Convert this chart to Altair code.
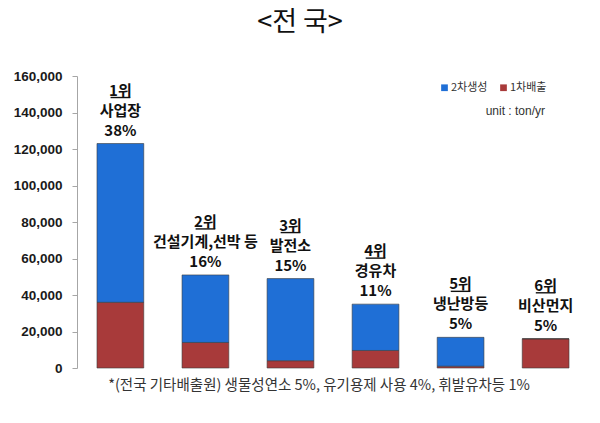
import altair as alt
import pandas as pd

categories = ["사업장", "건설기계,선박 등", "발전소", "경유차", "냉난방등", "비산먼지"]
ranks = ["1위", "2위", "3위", "4위", "5위", "6위"]
shares = ["38%", "16%", "15%", "11%", "5%", "5%"]
primary = [36000, 14000, 4000, 9600, 1000, 16000]      # 1차배출
secondary = [87000, 37000, 45000, 25400, 15800, 0]     # 2차생성
series_names = ["2차생성", "1차배출"]
y_ticks = [0, 20000, 40000, 60000, 80000, 100000, 120000, 140000, 160000]

rows = []
for c, p, s in zip(categories, primary, secondary):
    rows.append({"cat": c, "series": "1차배출", "value": p, "ord": 0})
    rows.append({"cat": c, "series": "2차생성", "value": s, "ord": 1})
df = pd.DataFrame(rows)

lab = pd.DataFrame({
    "cat": categories,
    "total": [p + s for p, s in zip(primary, secondary)],
    "rank": ranks,
    "share": shares,
})

FONT = "Liberation Sans"
KFONT = "Noto Sans CJK KR"

xscale = alt.Scale(domain=categories, paddingInner=0.45, paddingOuter=0.235)
yscale = alt.Scale(domain=[0, 160000], nice=False)
yaxis = alt.Axis(values=y_ticks, format=",.0f", title=None, grid=False,
                 domainColor="#a6a6a6", tickColor="#a6a6a6", tickSize=5,
                 labelFontSize=13.5, labelFontWeight="bold", labelColor="#1a1a1a",
                 labelFont=FONT, labelPadding=10, labelOverlap=False)

bars = alt.Chart(df).mark_bar(stroke="#3a3a3a", strokeWidth=0.6).encode(
    x=alt.X("cat:N", scale=xscale, axis=None, sort=categories),
    y=alt.Y("sum(value):Q", scale=yscale, axis=yaxis),
    color=alt.Color("series:N",
                    scale=alt.Scale(domain=series_names, range=["#1f6fd6", "#a83a3a"]),
                    legend=alt.Legend(title=None, orient="none", legendX=362, legendY=6,
                                      direction="horizontal", symbolType="square",
                                      symbolSize=45, labelFontSize=11, labelFont=KFONT,
                                      labelColor="#333333", columnPadding=10,
                                      labelOffset=1, padding=0, symbolStrokeWidth=0)),
    order=alt.Order("ord:Q"),
)


def text_layer(field, dy):
    return alt.Chart(lab).mark_text(
        baseline="bottom", align="center", dy=dy, fontSize=15, fontWeight="bold",
        font=KFONT, color="#111111"
    ).encode(
        x=alt.X("cat:N", scale=xscale, sort=categories, axis=None),
        y=alt.Y("total:Q", scale=yscale, axis=yaxis),
        text=f"{field}:N",
    )


rank_t = text_layer("rank", -45)
name_t = text_layer("cat", -25)
share_t = text_layer("share", -5)

underline = alt.Chart(lab).mark_rule(
    color="#111111", strokeWidth=1.4, yOffset=-46
).encode(
    x=alt.X("cat:N", scale=xscale, sort=categories, axis=None, bandPosition=0.29),
    x2=alt.X2("cat", bandPosition=0.71),
    y=alt.Y("total:Q", scale=yscale, axis=yaxis),
)

title = alt.Chart(pd.DataFrame({"t": ["<전 국>"]})).mark_text(
    fontSize=27, font=KFONT, color="#111111", align="center", baseline="middle"
).encode(x=alt.value(223), y=alt.value(-53), text="t:N")

unit = alt.Chart(pd.DataFrame({"t": ["unit : ton/yr"]})).mark_text(
    fontSize=12, font=FONT, color="#333333", align="right", baseline="middle"
).encode(x=alt.value(468), y=alt.value(35), text="t:N")

foot = alt.Chart(pd.DataFrame({"t": ["*(전국 기타배출원) 생물성연소 5%, 유기용제 사용 4%, 휘발유차등 1%"]})).mark_text(
    fontSize=14.5, font=KFONT, color="#333333", align="center", baseline="middle"
).encode(x=alt.value(242), y=alt.value(310), text="t:N")

chart = alt.layer(bars, rank_t, name_t, share_t, underline, title, unit, foot).properties(
    width=512, height=292,
    autosize=alt.AutoSizeParams(type="none"),
    padding={"left": 77, "top": 76, "right": 11, "bottom": 55},
    background="white",
).configure_view(stroke=None)

chart.save("out.html", embed_options={"renderer": "svg", "actions": False})
